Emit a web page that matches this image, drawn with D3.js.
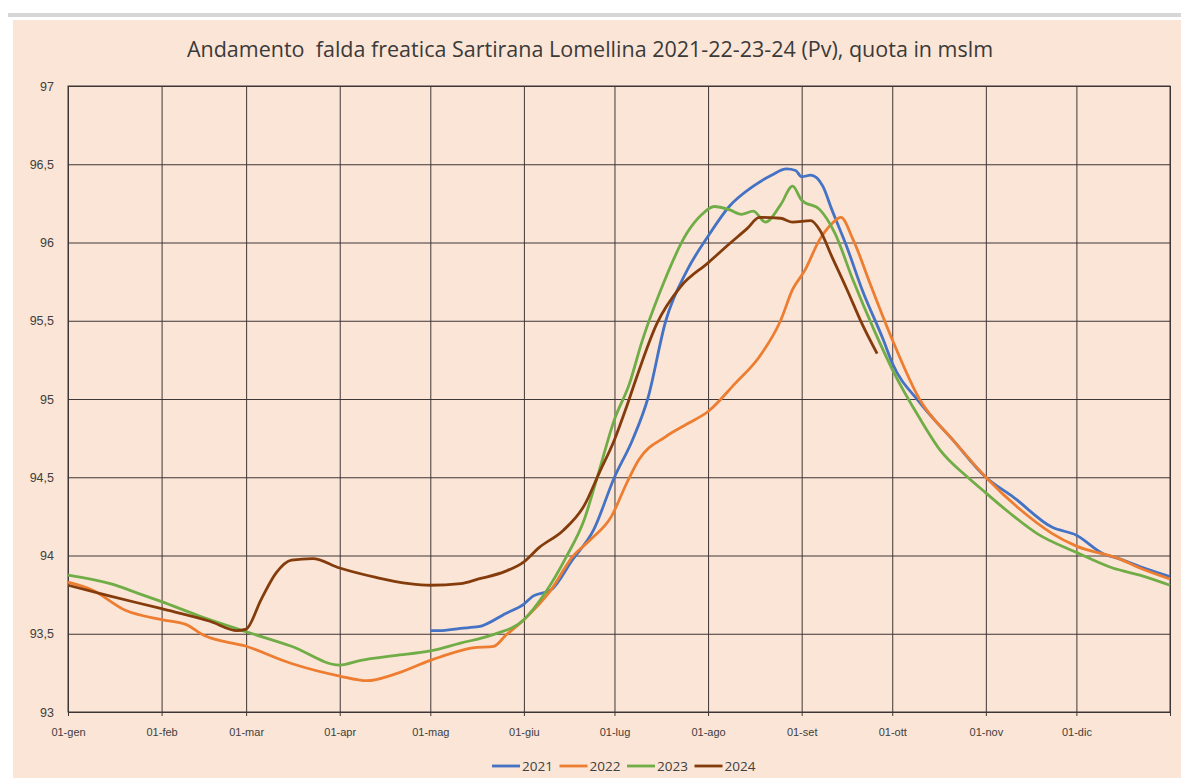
<!DOCTYPE html>
<html>
<head>
<meta charset="utf-8">
<script src="https://cdn.jsdelivr.net/npm/d3@7"></script>
<style>
  body { margin: 0; background: #fff; }
  svg { display: block; font-family: "Open Sans", Lato, sans-serif; }
</style>
</head>
<body>
<svg id="chart"></svg>
<script>
// month starts (day of year) and their labels
var monthDays = [0, 31, 59, 90, 120, 151, 181, 212, 243, 273, 304, 334]
var monthLabels = ["01-gen", "01-feb", "01-mar", "01-apr", "01-mag", "01-giu",
                   "01-lug", "01-ago", "01-set", "01-ott", "01-nov", "01-dic"]
var yTicks = [93, 93.5, 94, 94.5, 95, 95.5, 96, 96.5, 97]

// [day of year, level in mslm]
var data2021 = [[120,93.52],[123,93.52],[130,93.535],[136,93.545],[145,93.63],[151,93.69],[154,93.74],
  [160,93.78],[167,93.97],[174,94.16],[181,94.50],[187,94.74],[192,95.0],[198,95.5],
  [205,95.82],[212,96.04],[219,96.23],[227,96.36],[233,96.43],[238,96.47],[241,96.46],[243,96.42],
  [246,96.43],[250,96.36],[253,96.21],[258,95.97],[263,95.70],[270,95.38],[273,95.23],[282,94.98],
  [293,94.74],[304,94.50],[313,94.375],[326,94.18],[334,94.13],[343,94.01],[348,93.98],[355,93.93],[365,93.865]]

var data2022 = [[0,93.83],[8,93.78],[19,93.65],[31,93.59],[39,93.56],[45,93.49],[59,93.42],[74,93.31],
  [90,93.23],[99,93.20],[108,93.24],[120,93.33],[123,93.35],[134,93.41],[141,93.42],[145,93.49],
  [151,93.59],[160,93.78],[167,93.99],[173,94.10],[180,94.25],[185,94.46],[189,94.61],[198,94.76],
  [205,94.84],[212,94.92],[221,95.10],[229,95.27],[236,95.50],[240,95.70],[244,95.82],[249,96.02],
  [253,96.12],[256,96.16],[260,96.02],[266,95.72],[273,95.38],[282,95.00],[293,94.74],[304,94.50],
  [315,94.30],[326,94.14],[334,94.06],[348,93.98],[355,93.92],[365,93.85]]

var data2023 = [[0,93.875],[14,93.82],[23,93.76],[31,93.705],[44,93.61],[59,93.513],[74,93.42],[90,93.30],
  [97,93.33],[108,93.36],[120,93.39],[130,93.44],[140,93.49],[151,93.59],[158,93.76],[165,93.99],
  [171,94.23],[175,94.48],[181,94.87],[186,95.10],[190,95.36],[196,95.68],[205,96.06],[210,96.18],
  [214,96.23],[219,96.21],[223,96.18],[227,96.20],[231,96.13],[236,96.24],[240,96.36],[243,96.27],
  [249,96.21],[254,96.06],[260,95.76],[267,95.44],[273,95.19],[282,94.88],[289,94.67],[298,94.50],
  [304,94.40],[312,94.27],[321,94.14],[334,94.02],[346,93.92],[355,93.875],[365,93.81]]

var data2024 = [[0,93.81],[14,93.74],[31,93.66],[47,93.58],[56,93.52],[59,93.53],[64,93.72],[69,93.89],
  [74,93.97],[81,93.98],[90,93.92],[102,93.86],[113,93.82],[120,93.81],[130,93.82],[136,93.85],
  [145,93.90],[151,93.96],[156,94.05],[164,94.16],[171,94.32],[176,94.53],[181,94.74],[185,94.95],
  [188,95.12],[195,95.48],[203,95.72],[212,95.87],[219,95.99],[225,96.09],[229,96.16],[236,96.155],
  [240,96.13],[246,96.14],[249,96.08],[253,95.91],[258,95.70],[263,95.48],[268,95.29]]

var seriesNames = ["2021", "2022", "2023", "2024"]
var seriesColors = ["#4472C4", "#ED7D31", "#70AD47", "#843C0C"]
var seriesData = [data2021, data2022, data2023, data2024]

var screen = {width: 1181, height: 781}
var margins = {left: 68, right: 11, top: 86, bottom: 69}
var graph = {
    width: screen.width - margins.left - margins.right,
    height: screen.height - margins.top - margins.bottom
}

var svg = d3.select("#chart")
    .attr("width", screen.width)
    .attr("height", screen.height)

// top grey strip and the chart panel
svg.append("rect")
    .attr("x", 8).attr("y", 13)
    .attr("width", screen.width - 8).attr("height", 4)
    .attr("fill", "#d6d6d6")
svg.append("rect")
    .attr("x", 13).attr("y", 20)
    .attr("width", screen.width - 13).attr("height", 758)
    .attr("fill", "#FBE5D6")

var xScale = d3.scaleLinear()
    .domain([0, 365])
    .range([0, graph.width])

var yScale = d3.scaleLinear()
    .domain([93, 97])
    .range([graph.height, 0])

var plot = svg.append("g")
    .attr("transform", "translate(" + margins.left + "," + margins.top + ")")

var fmt = function(d) { return String(d).replace(".", ",") }

// horizontal grid + y labels
var yAxis = d3.axisLeft(yScale)
    .tickValues(yTicks)
    .tickSize(-graph.width)
    .tickPadding(14)
    .tickFormat(fmt)
plot.append("g")
    .call(yAxis)
    .call(function(g) {
        g.select(".domain").remove()
        g.selectAll("line").attr("stroke", "#3f3636").attr("stroke-width", 1)
        g.selectAll("text").attr("fill", "#404040").style("font-size", "12.5px")
    })

// vertical grid + x labels
var xAxis = d3.axisBottom(xScale)
    .tickValues(monthDays.concat([365]))
    .tickSize(-graph.height)
    .tickPadding(16)
    .tickFormat(function(d) {
        var i = monthDays.indexOf(d)
        return i < 0 ? "" : monthLabels[i]
    })
plot.append("g")
    .attr("transform", "translate(0," + graph.height + ")")
    .call(xAxis)
    .call(function(g) {
        g.select(".domain").attr("stroke", "#3f3636")
        g.selectAll("line").attr("stroke", "#3f3636").attr("stroke-width", 1)
            .attr("y2", -graph.height).attr("y1", 4)
        g.selectAll("text").attr("fill", "#404040").style("font-size", "11px")
    })

// plot border
plot.append("rect")
    .attr("width", graph.width).attr("height", graph.height)
    .attr("fill", "none").attr("stroke", "#3f3636")

var line = d3.line()
    .x(function(d) { return xScale(d[0]) })
    .y(function(d) { return yScale(d[1]) })
    .curve(d3.curveMonotoneX)

plot.selectAll("path.series")
    .data(seriesData)
    .enter()
    .append("path")
    .attr("class", "series")
    .attr("d", line)
    .attr("fill", "none")
    .attr("stroke", function(d, i) { return seriesColors[i] })
    .attr("stroke-width", 2.8)
    .attr("stroke-linejoin", "round")

// title
svg.append("text")
    .text("Andamento  falda freatica Sartirana Lomellina 2021-22-23-24 (Pv), quota in mslm")
    .attr("x", 590).attr("y", 57)
    .attr("text-anchor", "middle")
    .attr("fill", "#3a3a3a")
    .style("font-size", "21.5px")
    .style("white-space", "pre")

// legend
var legend = svg.append("g")
    .selectAll("g")
    .data(seriesNames)
    .enter()
    .append("g")
    .attr("transform", function(d, i) { return "translate(" + (492 + i * 67.5) + ",766)" })
legend.append("line")
    .attr("x1", 0).attr("x2", 28)
    .attr("stroke", function(d, i) { return seriesColors[i] })
    .attr("stroke-width", 2.8)
legend.append("text")
    .text(function(d) { return d })
    .attr("x", 30).attr("y", 5)
    .attr("fill", "#404040")
    .style("font-size", "13.5px")
</script>
</body>
</html>
